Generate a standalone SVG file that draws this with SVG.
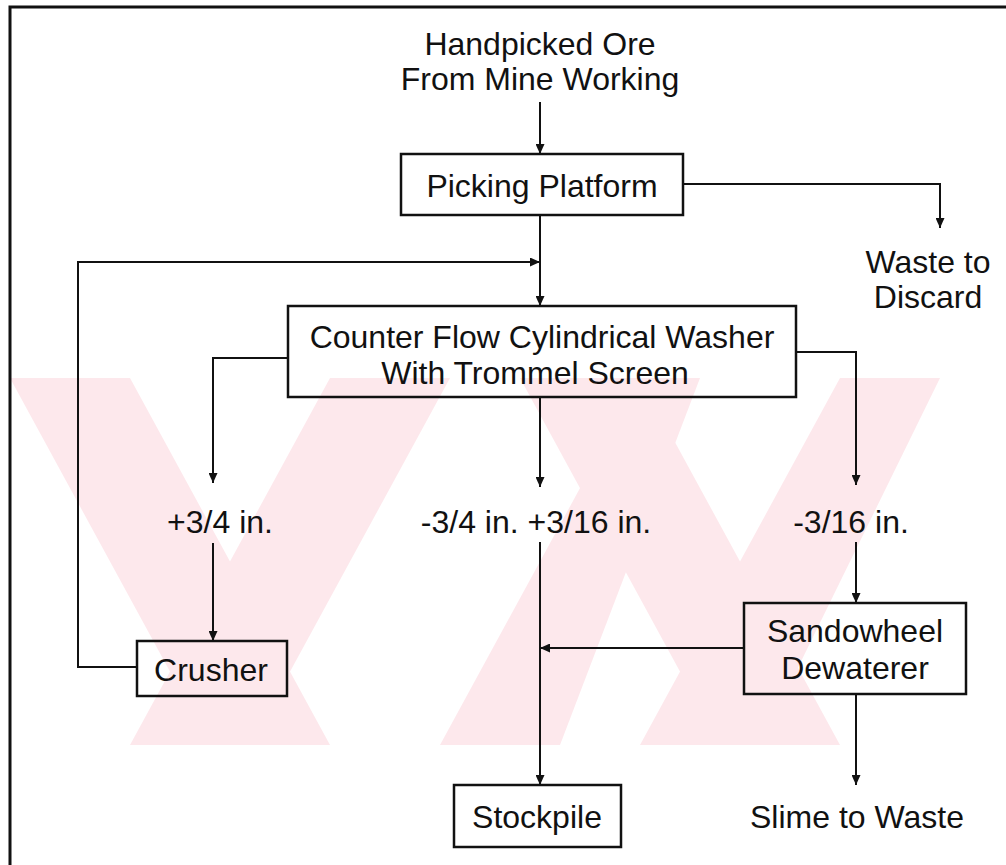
<svg xmlns="http://www.w3.org/2000/svg" width="1006" height="865" viewBox="0 0 1006 865">
<defs>
<style>
.t{font-family:"Liberation Sans",Arial,sans-serif;font-size:32px;fill:#111;text-anchor:middle}
.box{fill:none;stroke:#111;stroke-width:2.5}
.c{fill:none;stroke:#111;stroke-width:2}
.wm{fill:#fde8ec}
</style>
<marker id="ah" viewBox="0 0 10 9" refX="10" refY="4.5" markerWidth="10" markerHeight="9" markerUnits="userSpaceOnUse" orient="auto">
<path d="M0,0 L10,4.5 L0,9 z" fill="#111"/>
</marker>
<clipPath id="wmclip"><rect x="10" y="378" width="930" height="367"/></clipPath>
</defs>
<rect width="1006" height="865" fill="#fff"/>
<g id="watermark" clip-path="url(#wmclip)">
<polygon class="wm" points="10,378 130,378 330,745 210,745"/>
<polygon class="wm" points="330,378 450,378 250,745 130,745"/>
<polygon class="wm" points="520,378 640,378 840,745 720,745"/>
<polygon class="wm" points="840,378 940,378 760,745 640,745"/>
<polygon class="wm" points="560,745 440,745 640,378 700,378"/>
</g>
<path d="M10,865 V7 H1006" fill="none" stroke="#111" stroke-width="3"/>
<g id="connectors">
<path class="c" d="M540,102 V154" marker-end="url(#ah)"/>
<path class="c" d="M683,184 H940 V228" marker-end="url(#ah)"/>
<path class="c" d="M540,215 V306" marker-end="url(#ah)"/>
<path class="c" d="M137,667 H78 V262 H540" marker-end="url(#ah)"/>
<path class="c" d="M288,358 H213 V483" marker-end="url(#ah)"/>
<path class="c" d="M540,397 V487" marker-end="url(#ah)"/>
<path class="c" d="M796,352 H856 V485" marker-end="url(#ah)"/>
<path class="c" d="M213,543 V641" marker-end="url(#ah)"/>
<path class="c" d="M540,542 V785" marker-end="url(#ah)"/>
<path class="c" d="M856,542 V603" marker-end="url(#ah)"/>
<path class="c" d="M744,648 H540" marker-end="url(#ah)"/>
<path class="c" d="M856,694 V785" marker-end="url(#ah)"/>
</g>
<g id="source"><text class="t" x="540" y="55">Handpicked Ore</text><text class="t" x="540" y="90">From Mine Working</text></g>
<g id="picking"><rect class="box" x="401" y="154" width="282" height="61"/><text class="t" x="542" y="197">Picking Platform</text></g>
<g id="waste"><text class="t" x="928" y="273">Waste to</text><text class="t" x="928" y="308">Discard</text></g>
<g id="washer"><rect class="box" x="288" y="306" width="508" height="91"/><text class="t" x="542" y="348">Counter Flow Cylindrical Washer</text><text class="t" x="535" y="384">With Trommel Screen</text></g>
<g id="plus34"><text class="t" x="220" y="533">+3/4 in.</text></g>
<g id="mid"><text class="t" x="536" y="533">-3/4 in. +3/16 in.</text></g>
<g id="minus316"><text class="t" x="851" y="533">-3/16 in.</text></g>
<g id="crusher"><rect class="box" x="137" y="641" width="150" height="55"/><text class="t" x="211" y="681">Crusher</text></g>
<g id="sandowheel"><rect class="box" x="744" y="603" width="222" height="91"/><text class="t" x="855" y="642">Sandowheel</text><text class="t" x="855" y="679">Dewaterer</text></g>
<g id="stockpile"><rect class="box" x="454" y="785" width="167" height="62"/><text class="t" x="537" y="828">Stockpile</text></g>
<g id="slime"><text class="t" x="857" y="828">Slime to Waste</text></g>
</svg>
